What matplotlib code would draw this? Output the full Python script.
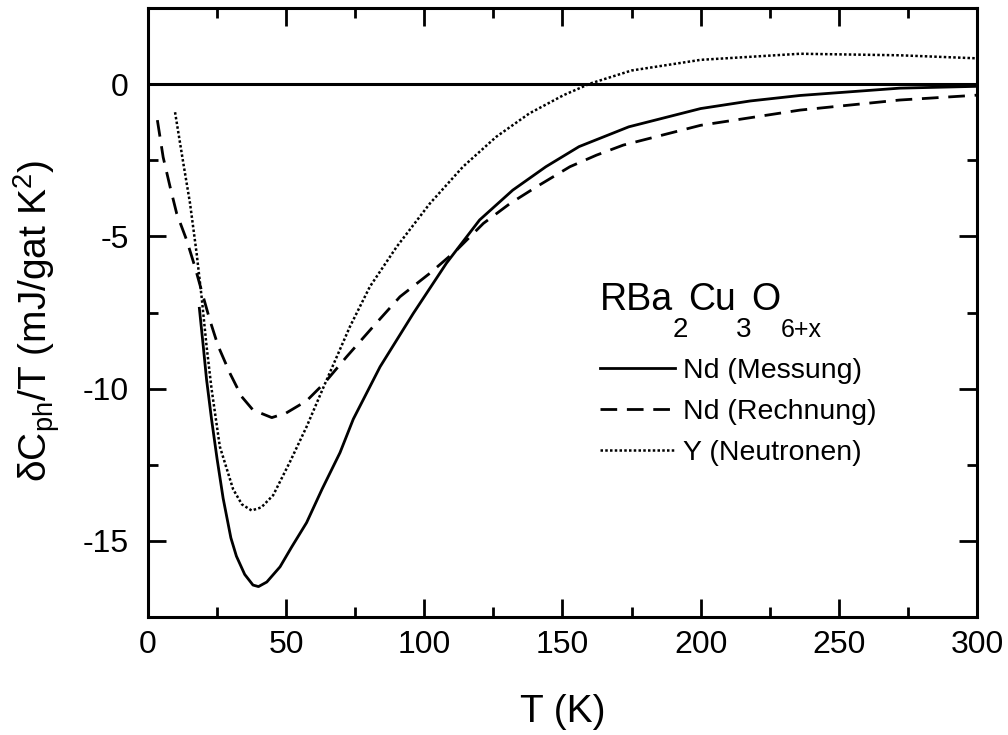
import matplotlib
matplotlib.use("Agg")
import matplotlib.pyplot as plt
from matplotlib.ticker import MultipleLocator
from matplotlib.transforms import offset_copy

plt.rcParams['font.family'] = ['Liberation Sans', 'DejaVu Sans']
plt.rcParams['mathtext.fontset'] = 'custom'
plt.rcParams['mathtext.rm'] = 'Liberation Sans'
plt.rcParams['mathtext.it'] = 'Liberation Sans:italic'
plt.rcParams['mathtext.default'] = 'regular'
plt.rcParams['axes.unicode_minus'] = False

# Nd, gemessen
t_mess = [18.6, 20, 21.2, 23, 25, 27.2, 30, 32, 35, 38, 40, 43, 47.8, 52, 57.4,
          63, 69.5, 74.3, 84, 96, 108, 120, 132, 144, 156, 174, 200, 218, 236,
          254, 272, 286, 300]
c_mess = [-7.36, -8.6, -9.7, -11.0, -12.3, -13.6, -14.9, -15.5, -16.1, -16.45,
          -16.5, -16.35, -15.85, -15.2, -14.4, -13.3, -12.1, -11.0, -9.28, -7.53,
          -5.88, -4.46, -3.48, -2.71, -2.05, -1.4, -0.8, -0.55, -0.37, -0.25,
          -0.13, -0.1, -0.07]

# Nd, gerechnet
t_rech = [3.4, 5.5, 8, 10.4, 14, 17, 20, 22.4, 25.4, 29.7, 33.9, 38, 44.8, 50,
          57.4, 64, 71.9, 81.5, 91.2, 102, 111.7, 121.4, 131, 140.6, 152.7,
          162.3, 172, 200, 236, 272, 300]
c_rech = [-1.18, -2.4, -3.37, -4.25, -5.12, -6.0, -6.98, -7.75, -8.6, -9.5,
          -10.26, -10.7, -10.95, -10.8, -10.4, -9.8, -8.95, -7.96, -6.98, -6.21,
          -5.45, -4.57, -3.92, -3.37, -2.71, -2.33, -2.0, -1.35, -0.85, -0.52,
          -0.36]

# Y, aus Neutronendaten
t_neut = [9.8, 12.8, 15.2, 17.6, 19.4, 21.2, 23, 26, 30.8, 34, 37.5, 41, 45.3,
          51.4, 57.4, 64, 73.1, 80.3, 90, 102, 114, 126, 138, 150.4, 160, 175,
          200, 236, 272, 300]
c_neut = [-0.92, -2.6, -3.9, -5.55, -6.98, -8.6, -10.0, -11.9, -13.3, -13.8,
          -14.0, -13.9, -13.5, -12.4, -11.25, -9.85, -7.96, -6.65, -5.34, -3.92,
          -2.71, -1.73, -0.96, -0.36, 0.02, 0.45, 0.8, 1.0, 0.95, 0.85]

# Summenformel in Stuecken: (Text, Schriftgroesse, Versatz in pt)
formel = [('RBa', 27, 0), ('2', 20, -19.5), ('Cu', 27, 0), ('3', 20, -19.5),
          ('O', 27, 0), ('6+x', 18, -19.5)]

fig = plt.figure(figsize=(10.08, 7.35), dpi=100)
ax = fig.add_axes([0.1468, 0.1605, 0.8224, 0.8285])

ax.axhline(0, color='black', lw=2.2)
ax.plot(t_mess, c_mess, color='black', lw=2.0, label='Nd (Messung)')
ax.plot(t_rech, c_rech, color='black', lw=2.0, linestyle=(0, (6, 3.5)),
        label='Nd (Rechnung)')
ax.plot(t_neut, c_neut, color='black', lw=1.8, linestyle=(0, (1, 0.9)),
        label='Y (Neutronen)')

ax.set_xlim(0, 300)
ax.set_ylim(-17.5, 2.5)
ax.xaxis.set_major_locator(MultipleLocator(50))
ax.xaxis.set_minor_locator(MultipleLocator(25))
ax.yaxis.set_major_locator(MultipleLocator(5))
ax.yaxis.set_minor_locator(MultipleLocator(2.5))
ax.tick_params(which='both', direction='in', top=True, right=True,
               width=2.0, labelsize=23)
ax.tick_params(which='major', length=13)
ax.tick_params(which='minor', length=7)
ax.tick_params(axis='x', pad=9)
ax.tick_params(axis='y', pad=14)
for s in ax.spines.values():
    s.set_linewidth(2.2)

ax.set_xlabel('T (K)', fontsize=28, labelpad=25)
ax.set_ylabel('δC$_{ph}$/T (mJ/gat K$^2$)', fontsize=28,
              ha='center', va='center')
ax.yaxis.set_label_coords(-0.134, 0.487)

# Formel stueckweise setzen, Indizes deutlich unter der Grundlinie
renderer = fig.canvas.get_renderer()
x_pt = 0.0
for teil, groesse, dy in formel:
    tr = offset_copy(ax.transAxes, fig=fig, x=x_pt, y=dy, units='points')
    txt = ax.text(0.5452, 0.504, teil, transform=tr, fontsize=groesse,
                  ha='left', va='baseline')
    x_pt += txt.get_window_extent(renderer).width * 72 / fig.dpi

ax.legend(loc='upper left', bbox_to_anchor=(0.545, 0.425), frameon=False,
          fontsize=20.5, handlelength=2.63, handletextpad=0.28,
          labelspacing=0.52, borderpad=0, borderaxespad=0)

plt.savefig('out.png', dpi=100)
